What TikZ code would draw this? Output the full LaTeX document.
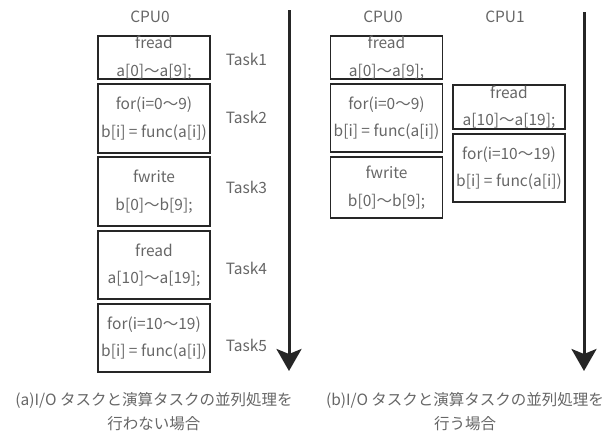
\documentclass[tikz,border=0pt]{standalone}
\usepackage{fontspec}
\setmainfont{Noto Sans CJK JP}
\usepackage{tikz}
\usetikzlibrary{positioning, arrows.meta}
\tikzset{task/.style = {draw=black!85,line width=1.2pt,minimum width=112pt,inner sep=0pt,
                        text=black!60,align=center,font=\fontsize{15.5}{27.5}\selectfont},
         lbl/.style = {text=black!60,font=\fontsize{15.5}{18}\selectfont},
         figcap/.style = {text=black!60,align=center,font=\fontsize{15.5}{24}\selectfont},
         timeline/.style = {line width=3pt,black!85,-{Stealth[length=22pt,width=25pt,inset=5pt]}}}

\begin{document}
\begin{tikzpicture}[x=1pt,y=-1pt]
    \useasboundingbox (0,0) rectangle (608,434);
    % (a) without parallel
    \node[lbl] (cpuA) at (150,17) {CPU0};
    \node[task,minimum height=43pt] (a1) at (154,57.5) {fread\\a[0]〜a[9];};
    \node[task,minimum height=69pt] (a2) at (154,118.5) {for(i=0〜9)\\b[i] = func(a[i])};
    \node[task,minimum height=69pt] (a3) at (154,191.5) {fwrite\\b[0]〜b[9];};
    \node[task,minimum height=68pt] (a4) at (154,265) {fread\\a[10]〜a[19];};
    \node[task,minimum height=68pt] (a5) at (154,338) {for(i=10〜19)\\b[i] = func(a[i])};
    \node[lbl] (t1) at (246.5,59) {Task1};
    \node[lbl] (t2) at (246.5,117) {Task2};
    \node[lbl] (t3) at (246.5,187) {Task3};
    \node[lbl] (t4) at (246.5,268) {Task4};
    \node[lbl] (t5) at (246.5,345) {Task5};
    \coordinate (sA) at (289,10);
    \coordinate (eA) at (289,371);
    \draw[timeline] (sA) -- (eA);
    \node[figcap] (capA) at (154,412) {(a)I/O タスクと演算タスクの並列処理を\\行わない場合};
    % (b) with parallel
    \node[lbl] (cpuB0) at (383,17) {CPU0};
    \node[lbl] (cpuB1) at (505,17) {CPU1};
    \node[task,minimum height=43pt] (b1) at (386.5,57.5) {fread\\a[0]〜a[9];};
    \node[task,minimum height=68pt] (b2) at (386.5,118) {for(i=0〜9)\\b[i] = func(a[i])};
    \node[task,minimum height=61pt] (b3) at (386.5,187.5) {fwrite\\b[0]〜b[9];};
    \node[task,minimum height=44pt] (c1) at (509,107) {fread\\a[10]〜a[19];};
    \node[task,minimum height=68pt] (c2) at (509,168) {for(i=10〜19)\\b[i] = func(a[i])};
    \coordinate (sB) at (584,12);
    \coordinate (eB) at (584,371);
    \draw[timeline] (sB) -- (eB);
    \node[figcap] (capB) at (465,412) {(b)I/O タスクと演算タスクの並列処理を\\行う場合};
\end{tikzpicture}
\end{document}
